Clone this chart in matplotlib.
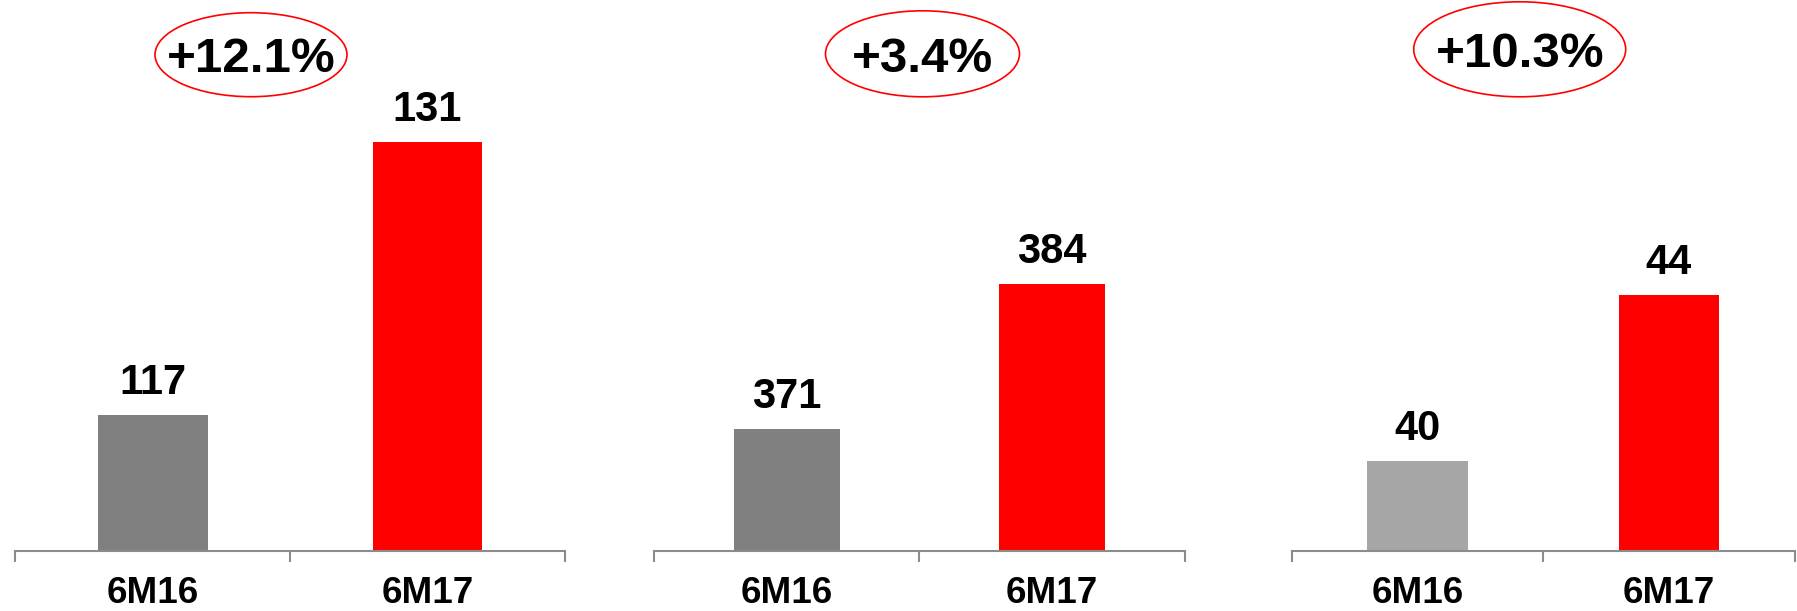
import matplotlib
matplotlib.use("Agg")
import matplotlib.pyplot as plt
from matplotlib.patches import Ellipse

# =========================
# Data
# =========================
periods = ["6M16", "6M17"]
panel1_values = [117, 131]
panel2_values = [371, 384]
panel3_values = [40, 44]
growth_labels = ["+12.1%", "+3.4%", "+10.3%"]

# =========================
# Style
# =========================
plt.rcParams['font.family'] = ['Liberation Sans', 'DejaVu Sans']
plt.rcParams['font.weight'] = 'bold'

W, H = 1797, 611
AXIS_Y = 551          # pixel row of the category axis
RED = "#FF0000"
AXIS_GREY = "#8C8C8C"

# pixel extent of each panel's axis line, value at the axis line, px per unit
panels = [
    dict(values=panel1_values, x0=15.3, x1=564.9, base=110.0, ppu=19.48, grey="#808080"),
    dict(values=panel2_values, x0=654.3, x1=1184.6, base=360.0, ppu=11.125, grey="#808080"),
    dict(values=panel3_values, x0=1291.75, x1=1794.75, base=37.83, ppu=41.5, grey="#A6A6A6"),
]
# ellipse centre x, centre y, width, height, text baseline (pixels from top)
bubbles = [
    (251, 54.7, 192, 84, 71.7),
    (922.5, 53.8, 194, 86, 72.0),
    (1519.7, 49.3, 212, 95, 67.0),
]


def draw_panel(fig, p):
    left = p["x0"] / W
    width = (p["x1"] - p["x0"]) / W
    bottom = (H - AXIS_Y) / H
    height = AXIS_Y / H
    ax = fig.add_axes([left, bottom, width, height])

    x = list(range(len(periods)))
    ax.bar(x, p["values"], width=0.4, color=[p["grey"], RED],
           bottom=0, zorder=2)
    ax.set_xlim(-0.5, 1.5)
    ax.set_ylim(p["base"], p["base"] + AXIS_Y / p["ppu"])

    for xi, v in zip(x, p["values"]):
        ax.annotate(str(v), (xi, v), xytext=(0, 14.8), textcoords='offset points',
                    ha='center', va='baseline', fontsize=30, fontweight='bold')

    for s in ["top", "left", "right"]:
        ax.spines[s].set_visible(False)
    ax.spines["bottom"].set_color(AXIS_GREY)
    ax.spines["bottom"].set_linewidth(1.5)
    ax.set_yticks([])
    ax.set_xticks(x)
    ax.set_xticklabels(periods, fontsize=26.5, fontweight='bold')
    ax.set_xticks([-0.5, 0.5, 1.5], minor=True)
    ax.tick_params(axis='x', which='major', length=0, pad=18)
    ax.tick_params(axis='x', which='minor', length=8, width=1.5,
                   color=AXIS_GREY, direction='out')
    ax.patch.set_alpha(0)
    return ax


def main():
    fig = plt.figure(figsize=(W / 100, H / 100), dpi=100)

    for p in panels:
        draw_panel(fig, p)

    # overlay in pixel coordinates for the growth bubbles
    ov = fig.add_axes([0, 0, 1, 1])
    ov.set_xlim(0, W)
    ov.set_ylim(H, 0)
    ov.axis('off')
    for (cx, cy, ew, eh, base), label in zip(bubbles, growth_labels):
        ov.add_patch(Ellipse((cx, cy), ew, eh, fill=False, ec=RED, lw=1.2))
        ov.text(cx, base, label, ha='center', va='baseline',
                fontsize=35.5, fontweight='bold')

    fig.savefig("out.png", dpi=100)
    plt.close(fig)


if __name__ == "__main__":
    main()
